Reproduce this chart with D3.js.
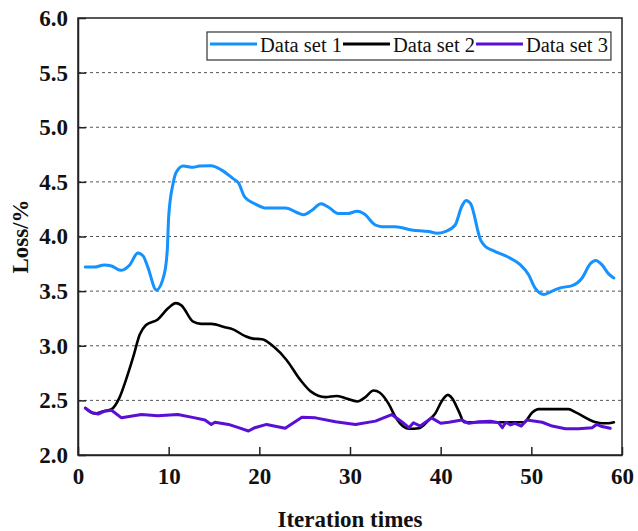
<!DOCTYPE html>
<html>
<head>
<meta charset="utf-8">
<script src="https://cdn.jsdelivr.net/npm/d3@7"></script>
<style>
body { margin:0; background:#fff; }
svg text { font-family:"Liberation Serif","Times New Roman",serif; }
</style>
</head>
<body>
<div id="chart"></div>
<script>
// values
var seriesNames = ["Data set 1","Data set 2","Data set 3"];
var seriesColors = ["#1492ff","#000000","#5a0fd6"];

var iterSet1 = [0.8,1.8,2.9,3.7,4.7,5.7,6.6,7.2,7.7,8.65,9.5,9.85,10.0,10.5,10.85,11.6,12.7,13.4,14.7,15.8,17.1,17.7,18.4,19.5,20.8,22.85,24.9,25.8,26.8,27.6,28.7,29.7,30.8,31.5,32.8,33.5,35,36.8,38.7,39.6,40.5,41.6,42.3,42.8,43.3,44.4,44.9,45.8,47.7,48.8,49.7,50.4,51.4,52.3,53.2,54.5,55.6,56.5,57.1,57.8,58.5,59.1];
var lossSet1 = [3.72,3.72,3.74,3.73,3.69,3.74,3.85,3.82,3.72,3.51,3.65,3.88,4.18,4.49,4.59,4.645,4.633,4.645,4.648,4.61,4.53,4.49,4.36,4.30,4.26,4.26,4.20,4.24,4.30,4.27,4.21,4.21,4.23,4.21,4.105,4.09,4.09,4.06,4.045,4.03,4.045,4.105,4.27,4.33,4.30,3.97,3.91,3.87,3.80,3.74,3.65,3.53,3.47,3.50,3.53,3.55,3.62,3.75,3.78,3.74,3.66,3.62];

var iterSet2 = [0.8,1.8,2.8,3.7,4.6,5.3,6.1,6.8,7.5,8.8,9.9,10.8,11.4,12.7,13.6,14.7,16.2,17.1,18.4,19.3,20.3,21.6,23.0,24.5,25.7,27.3,28.5,29.5,30.8,31.7,32.6,33.3,34.25,35.0,35.9,36.5,37.6,38.7,39.4,40.1,40.8,41.25,42.0,42.6,43.8,46.8,49.2,50.1,50.8,54.1,54.9,57.1,57.8,58.5,59.1];
var lossSet2 = [2.43,2.38,2.40,2.42,2.53,2.69,2.90,3.10,3.19,3.24,3.34,3.39,3.37,3.22,3.20,3.20,3.17,3.15,3.09,3.065,3.06,2.99,2.87,2.69,2.58,2.53,2.54,2.52,2.49,2.53,2.59,2.57,2.47,2.35,2.26,2.24,2.245,2.32,2.38,2.49,2.55,2.52,2.40,2.30,2.30,2.30,2.30,2.39,2.42,2.42,2.39,2.30,2.29,2.29,2.30];

var iterSet3 = [0.8,1.5,2.2,2.9,3.7,4.8,7.0,8.8,11.0,12.9,14.0,14.7,15.1,16.6,17.7,18.8,19.5,20.8,22.85,24.7,26.2,28.4,30.6,32.8,34.6,35.7,36.5,37.0,37.75,39.0,40.0,40.9,42.35,43.1,44.2,45.5,46.4,46.8,47.2,47.7,48.2,48.9,49.5,51.2,52.3,53.75,55.2,56.7,57.2,57.8,58.7];
var lossSet3 = [2.43,2.39,2.375,2.40,2.41,2.34,2.37,2.36,2.37,2.34,2.32,2.28,2.30,2.28,2.25,2.22,2.25,2.28,2.245,2.345,2.34,2.305,2.28,2.31,2.37,2.305,2.25,2.295,2.265,2.34,2.29,2.30,2.32,2.29,2.305,2.31,2.295,2.25,2.30,2.275,2.29,2.265,2.32,2.30,2.265,2.24,2.24,2.25,2.28,2.26,2.245];

var xTicks = [0,10,20,30,40,50,60];
var yTicks = [2.0,2.5,3.0,3.5,4.0,4.5,5.0,5.5,6.0];

var W = 638, H = 531;
var margin = {left:78, top:18, right:16, bottom:76};
var pw = W - margin.left - margin.right;
var ph = H - margin.top - margin.bottom;

var svg = d3.select("#chart").append("svg")
	.attr("width", W)
	.attr("height", H);

var g = svg.append("g").attr("transform","translate("+margin.left+","+margin.top+")");

var x = d3.scaleLinear().domain([0,60]).range([0,pw]);
var y = d3.scaleLinear().domain([2,6]).range([ph,0]);

// dashed grid
g.selectAll("line.grid")
	.data(yTicks.filter(function(d){return d>2 && d<6}))
	.enter().append("line")
	.attr("class","grid")
	.attr("x1",0).attr("x2",pw)
	.attr("y1",function(d){return y(d)})
	.attr("y2",function(d){return y(d)})
	.attr("stroke","#555")
	.attr("stroke-width",1)
	.attr("stroke-dasharray","3,3");

// series
var series = [
	{iter:iterSet1, loss:lossSet1, curve:d3.curveMonotoneX, w:3},
	{iter:iterSet2, loss:lossSet2, curve:d3.curveMonotoneX, w:2.6},
	{iter:iterSet3, loss:lossSet3, curve:d3.curveLinear, w:3}
];
series.forEach(function(s,i){
	var pts = s.iter.map(function(v,k){return [v, s.loss[k]]});
	var line = d3.line()
		.x(function(d){return x(d[0])})
		.y(function(d){return y(d[1])})
		.curve(s.curve);
	g.append("path")
		.datum(pts)
		.attr("fill","none")
		.attr("stroke",seriesColors[i])
		.attr("stroke-width",s.w)
		.attr("stroke-linejoin","round")
		.attr("stroke-linecap","round")
		.attr("d",line);
});

// frame
g.append("rect")
	.attr("x",0).attr("y",0)
	.attr("width",pw).attr("height",ph)
	.attr("fill","none")
	.attr("stroke","#222")
	.attr("stroke-width",1.5);

// axes, ticks inward
var xAxis = g.append("g")
	.attr("transform","translate(0,"+ph+")")
	.call(d3.axisBottom(x).tickValues(xTicks).tickFormat(d3.format("d")).tickSizeInner(-8).tickSizeOuter(0).tickPadding(13));
var yAxis = g.append("g")
	.call(d3.axisLeft(y).tickValues(yTicks).tickFormat(d3.format(".1f")).tickSizeInner(-8).tickSizeOuter(0).tickPadding(10));

[xAxis,yAxis].forEach(function(a){
	a.select(".domain").attr("stroke","#222").attr("stroke-width",1.5);
	a.selectAll(".tick line").attr("stroke","#222").attr("stroke-width",1.5);
	a.selectAll(".tick text")
		.attr("fill","#111")
		.style("font-family",'"Liberation Serif",serif')
		.style("font-size","23px")
		.style("font-weight","bold");
});

// axis titles
svg.append("text")
	.attr("x", margin.left + pw/2)
	.attr("y", 527)
	.attr("text-anchor","middle")
	.style("font-size","23px")
	.style("font-weight","bold")
	.attr("fill","#111")
	.text("Iteration times");

svg.append("text")
	.attr("transform","translate(28,"+(margin.top+ph/2)+") rotate(-90)")
	.attr("text-anchor","middle")
	.style("font-size","23px")
	.style("font-weight","bold")
	.attr("fill","#111")
	.text("Loss/%");

// legend
var leg = svg.append("g");
var legBox = leg.append("rect")
	.attr("x",207).attr("y",32)
	.attr("height",28)
	.attr("fill","#fff")
	.attr("stroke","#333")
	.attr("stroke-width",1.2);
var lx = 210;
seriesNames.forEach(function(name,i){
	leg.append("line")
		.attr("x1",lx).attr("x2",lx+47)
		.attr("y1",44).attr("y2",44)
		.attr("stroke",seriesColors[i])
		.attr("stroke-width",3);
	var t = leg.append("text")
		.attr("x",lx+50).attr("y",52)
		.style("font-size","20.5px")
		.attr("fill","#111")
		.text(name);
	lx = lx + 50 + t.node().getComputedTextLength() + 1;
});
legBox.attr("width", lx - 207 + 2);
</script>
</body>
</html>
